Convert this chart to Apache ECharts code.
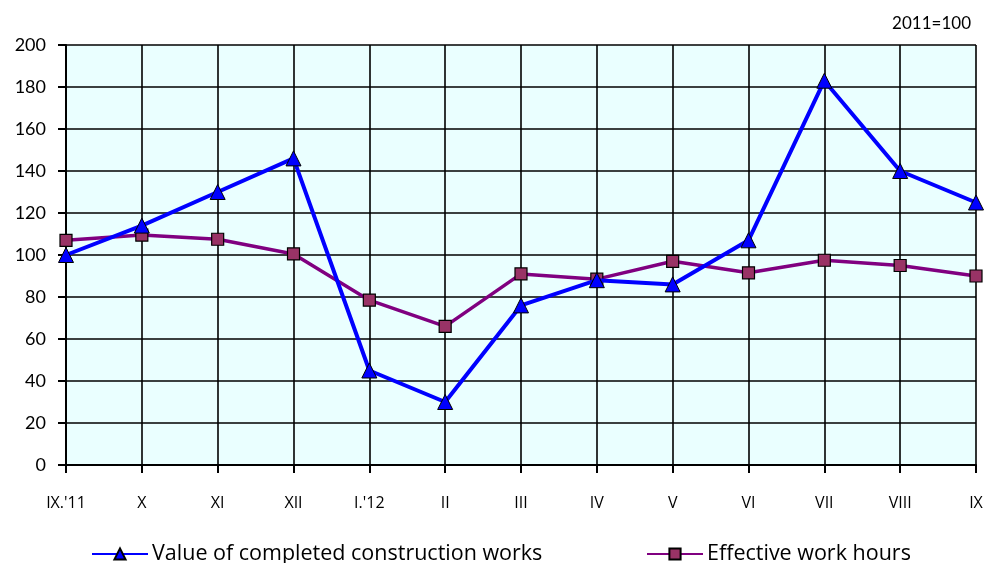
<!DOCTYPE html>
<html>
<head>
<meta charset="utf-8">
<script src="https://cdn.jsdelivr.net/npm/echarts@6/dist/echarts.min.js"></script>
<style>html,body{margin:0;padding:0;background:#fff;}#c{width:988px;height:563px;}</style>
</head>
<body>
<div id="c"></div>
<script>
const categories = ["IX.'11", "X", "XI", "XII", "I.'12", "II", "III", "IV", "V", "VI", "VII", "VIII", "IX"];
const constructionValue = [100, 114, 130, 146, 45, 30, 76, 88, 86, 107, 183, 140, 125];
const workHours = [107, 109.5, 107.5, 100.5, 78.5, 66, 91, 88.5, 97, 91.5, 97.5, 95, 90];
const yTicks = { min: 0, max: 200, interval: 20 };

const chart = echarts.init(document.getElementById('c'), null, { renderer: 'canvas' });
const font = 'Lato, "Open Sans", sans-serif';
const legendFont = '"Open Sans", Lato, sans-serif';
chart.setOption({
  animation: false,
  backgroundColor: '#ffffff',
  graphic: [{
    type: 'text', right: 17, top: 15,
    style: { text: '2011=100', font: '17px ' + font, fill: '#000' }
  }],
  legend: [{
    data: ['Value of completed construction works'],
    left: 91, top: 543, padding: 0, itemWidth: 56, itemHeight: 14, itemGap: 4,
    textStyle: { fontFamily: legendFont, fontSize: 21.5, color: '#000', padding: [0, 0, 0, -1] }
  }, {
    data: ['Effective work hours'],
    left: 646, top: 543, padding: 0, itemWidth: 56, itemHeight: 14, itemGap: 4,
    textStyle: { fontFamily: legendFont, fontSize: 21.5, color: '#000', padding: [0, 0, 0, -1] }
  }],
  grid: { left: 66, right: 12, top: 45, bottom: 98, backgroundColor: '#EAFFFF', show: true, borderWidth: 0 },
  xAxis: {
    type: 'category', data: categories, boundaryGap: false,
    axisLine: { lineStyle: { color: '#000', width: 2 } },
    axisTick: { show: true, length: 8, lineStyle: { color: '#000', width: 2 } },
    axisLabel: { margin: 30, color: '#000', fontFamily: legendFont, fontSize: 16 },
    splitLine: { show: true, lineStyle: { color: '#000', width: 1.6 } }
  },
  yAxis: {
    type: 'value', min: yTicks.min, max: yTicks.max, interval: yTicks.interval,
    axisLine: { show: true, lineStyle: { color: '#000', width: 2 } },
    axisTick: { show: true, length: 8, lineStyle: { color: '#000', width: 2 } },
    axisLabel: { margin: 20, color: '#000', fontFamily: font, fontSize: 18 },
    splitLine: { show: true, lineStyle: { color: '#000', width: 1.6 } }
  },
  series: [{
    name: 'Value of completed construction works', type: 'line', data: constructionValue,
    symbol: 'triangle', symbolSize: 15, z: 3,
    lineStyle: { color: '#0000FF', width: 4 },
    itemStyle: { color: '#0000FF', borderColor: '#000', borderWidth: 1 }
  }, {
    name: 'Effective work hours', type: 'line', data: workHours,
    symbol: 'rect', symbolSize: 12, z: 2,
    lineStyle: { color: '#800080', width: 3.5 },
    itemStyle: { color: '#993366', borderColor: '#000', borderWidth: 1.2 }
  }]
});
</script>
</body>
</html>
